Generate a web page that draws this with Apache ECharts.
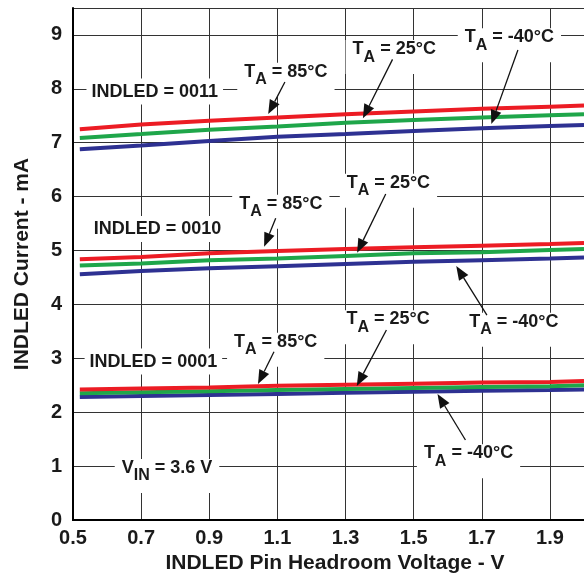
<!DOCTYPE html>
<html>
<head>
<meta charset="utf-8">
<script src="https://cdn.jsdelivr.net/npm/echarts@6/dist/echarts.min.js"></script>
<style>html,body{margin:0;padding:0;background:#fff;}#main{width:584px;height:579px;}</style>
</head>
<body>
<div id="main"></div>
<script>
// ---- data ----
const headroomV = [0.52, 0.7, 0.9, 1.1, 1.3, 1.5, 1.7, 1.9, 2.0];
const i0011_85 = [7.25, 7.34, 7.41, 7.47, 7.53, 7.58, 7.63, 7.67, 7.69];
const i0011_25 = [7.09, 7.16, 7.24, 7.30, 7.37, 7.42, 7.47, 7.51, 7.53];
const i0011_m40 = [6.88, 6.95, 7.03, 7.11, 7.16, 7.22, 7.27, 7.31, 7.33];
const i0010_85 = [4.84, 4.88, 4.95, 4.99, 5.03, 5.06, 5.09, 5.12, 5.14];
const i0010_25 = [4.72, 4.76, 4.82, 4.85, 4.90, 4.95, 4.97, 5.01, 5.03];
const i0010_m40 = [4.56, 4.62, 4.67, 4.71, 4.75, 4.79, 4.82, 4.85, 4.87];
const i0001_85 = [2.42, 2.44, 2.46, 2.49, 2.51, 2.53, 2.55, 2.56, 2.58];
const i0001_25 = [2.35, 2.37, 2.39, 2.41, 2.43, 2.45, 2.47, 2.48, 2.50];
const i0001_m40 = [2.28, 2.30, 2.32, 2.34, 2.36, 2.38, 2.40, 2.41, 2.42];
const xTickLabels = ['0.5', '0.7', '0.9', '1.1', '1.3', '1.5', '1.7', '1.9'];
const yTickLabels = ['0', '1', '2', '3', '4', '5', '6', '7', '8', '9'];

// annotation texts (positions in data units)
const labels = [
  { text: '{b|INDLED = 0011}', at: [0.740, 7.95] },
  { text: '{t|T}{s|A}{t| = 85°C}', at: [1.125, 8.28] },
  { text: '{t|T}{s|A}{t| = 25°C}', at: [1.443, 8.70] },
  { text: '{t|T}{s|A}{t| = -40°C}', at: [1.781, 8.92] },
  { text: '{b|INDLED = 0010}', at: [0.748, 5.40] },
  { text: '{t|T}{s|A}{t| = 85°C}', at: [1.110, 5.83] },
  { text: '{t|T}{s|A}{t| = 25°C}', at: [1.426, 6.22] },
  { text: '{t|T}{s|A}{t| = -40°C}', at: [1.794, 3.64] },
  { text: '{b|INDLED = 0001}', at: [0.736, 2.94] },
  { text: '{t|T}{s|A}{t| = 85°C}', at: [1.095, 3.27] },
  { text: '{t|T}{s|A}{t| = 25°C}', at: [1.425, 3.69] },
  { text: '{t|T}{s|A}{t| = -40°C}', at: [1.661, 1.20] },
  { text: '{t|V}{s|IN}{t| = 3.6 V}', at: [0.776, 0.93] }
];
const arrows = [
  { from: [1.122, 8.126], to: [1.073, 7.532] },
  { from: [1.438, 8.547], to: [1.351, 7.453] },
  { from: [1.806, 8.720], to: [1.728, 7.347] },
  { from: [1.095, 5.597], to: [1.061, 5.071] },
  { from: [1.418, 6.048], to: [1.334, 4.959] },
  { from: [1.715, 3.803], to: [1.625, 4.712] },
  { from: [1.090, 3.122], to: [1.043, 2.523] },
  { from: [1.420, 3.525], to: [1.333, 2.486] },
  { from: [1.652, 1.484], to: [1.570, 2.338] }
];

const FONT = '"Liberation Sans", Arial, Helvetica, sans-serif';
const TXT = '#1a1a1a';
const RED = '#ec1c24', GREEN = '#1fa64a', BLUE = '#2e3192';

function mk(values, color) {
  return {
    type: 'line',
    data: headroomV.map((x, i) => [x, values[i]]),
    showSymbol: false,
    symbol: 'none',
    lineStyle: { color: color, width: 4 },
    z: 3,
    silent: true
  };
}

const chart = echarts.init(document.getElementById('main'));
chart.setOption({
  animation: false,
  backgroundColor: '#fff',
  grid: { left: 73, right: 0, top: 8, bottom: 59, containLabel: false },
  xAxis: [{
    type: 'value', min: 0.5, max: 2.0, interval: 0.2,
    name: 'INDLED Pin Headroom Voltage - V', nameLocation: 'middle', nameGap: 32,
    nameTextStyle: { fontFamily: FONT, fontWeight: 'bold', fontSize: 21, color: TXT, padding: [0, 0, 0, 13] },
    axisLine: { show: true, onZero: false, lineStyle: { color: '#000', width: 2 } },
    axisTick: { show: false },
    axisLabel: {
      margin: 8, fontFamily: FONT, fontWeight: 'bold', fontSize: 20, color: TXT,
      showMaxLabel: false,
      formatter: v => { const s = v.toFixed(1); return xTickLabels.indexOf(s) >= 0 ? s : ''; }
    },
    splitLine: { show: true, lineStyle: { color: '#333', width: 1 } }
  }, {
    type: 'value', min: 0.5, max: 2.0, position: 'top',
    axisLine: { show: true, lineStyle: { color: '#000', width: 2 } },
    axisTick: { show: false }, axisLabel: { show: false }, splitLine: { show: false }
  }],
  yAxis: {
    type: 'value', min: 0, max: 9.5, interval: 1,
    name: 'INDLED Current - mA', nameLocation: 'middle', nameGap: 40,
    nameTextStyle: { fontFamily: FONT, fontWeight: 'bold', fontSize: 21, color: TXT },
    axisLine: { show: true, lineStyle: { color: '#000', width: 2 } },
    axisTick: { show: false },
    axisLabel: {
      margin: 11, fontFamily: FONT, fontWeight: 'bold', fontSize: 20, color: TXT,
      showMaxLabel: false,
      formatter: v => { const s = String(Math.round(v)); return (Math.abs(v - Math.round(v)) < 1e-6 && yTickLabels.indexOf(s) >= 0) ? s : ''; }
    },
    splitLine: { show: true, lineStyle: { color: '#333', width: 1 } }
  },
  series: [
    mk(i0011_m40, BLUE), mk(i0011_25, GREEN), mk(i0011_85, RED),
    mk(i0010_m40, BLUE), mk(i0010_25, GREEN), mk(i0010_85, RED),
    mk(i0001_m40, BLUE), mk(i0001_25, GREEN), mk(i0001_85, RED)
  ]
});

const rich = {
  b: { fontFamily: FONT, fontWeight: 'bold', fontSize: 18, fill: TXT, color: TXT, lineHeight: 20 },
  t: { fontFamily: FONT, fontWeight: 'bold', fontSize: 18, fill: TXT, color: TXT, lineHeight: 20, verticalAlign: 'top' },
  s: { fontFamily: FONT, fontWeight: 'bold', fontSize: 16, fill: TXT, color: TXT, lineHeight: 34 }
};

function px(p) { return chart.convertToPixel({ xAxisIndex: 0, yAxisIndex: 0 }, p); }
const g = [];
labels.forEach(l => {
  const p = px(l.at);
  const isT = l.text.indexOf('{s|') >= 0;
  g.push({
    type: 'text', x: p[0], y: p[1] + (isT ? 6 : 0), z: 60,
    style: {
      text: l.text, rich: rich, align: 'center', verticalAlign: 'middle',
      backgroundColor: '#fff', padding: isT ? [0, 7] : [3, 5]
    }
  });
});
arrows.forEach(a => {
  const p0 = px(a.from), p1 = px(a.to);
  const dx = p1[0] - p0[0], dy = p1[1] - p0[1];
  const len = Math.sqrt(dx * dx + dy * dy);
  const ux = dx / len, uy = dy / len;
  const L = 14, W = 5.5;
  const bx = p1[0] - ux * L, by = p1[1] - uy * L;
  g.push({ type: 'line', shape: { x1: p0[0], y1: p0[1], x2: bx, y2: by }, style: { stroke: '#111', lineWidth: 1.3 }, z: 70 });
  g.push({ type: 'polygon', shape: { points: [[p1[0], p1[1]], [bx - uy * W, by + ux * W], [bx + uy * W, by - ux * W]] }, style: { fill: '#111' }, z: 70 });
});
chart.setOption({ graphic: g });
</script>
</body>
</html>
